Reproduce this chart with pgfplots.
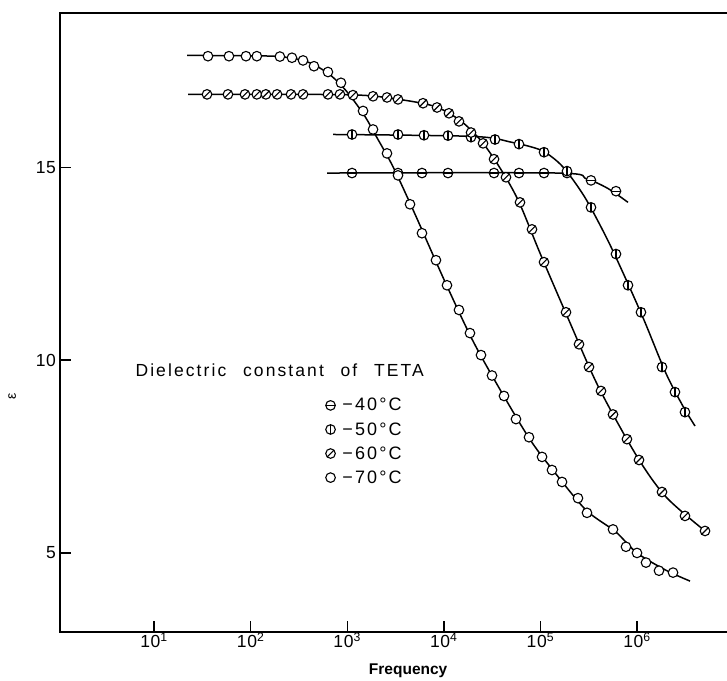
\documentclass[border=0pt]{standalone}
\usepackage{fontspec}
\setmainfont{Liberation Sans}
\newfontfamily\spaced{Liberation Sans}[LetterSpace=12, WordSpace=2.4]
\newfontfamily\tickfont{Liberation Sans}[LetterSpace=4]
\usepackage{pgfplots}
\pgfplotsset{compat=1.18}

% circle marks with a bar / slash inside
\pgfdeclareplotmark{circ}{%
  \pgfpathcircle{\pgfpointorigin}{\pgfplotmarksize}\pgfusepathqfillstroke}
\pgfdeclareplotmark{circh}{%
  \pgfpathcircle{\pgfpointorigin}{\pgfplotmarksize}\pgfusepathqfillstroke
  \pgfpathmoveto{\pgfqpoint{-\pgfplotmarksize}{0pt}}%
  \pgfpathlineto{\pgfqpoint{\pgfplotmarksize}{0pt}}\pgfusepathqstroke}
\pgfdeclareplotmark{circv}{%
  \pgfpathcircle{\pgfpointorigin}{\pgfplotmarksize}\pgfusepathqfillstroke
  \pgfpathmoveto{\pgfqpoint{0pt}{-\pgfplotmarksize}}%
  \pgfpathlineto{\pgfqpoint{0pt}{\pgfplotmarksize}}\pgfusepathqstroke}
\pgfdeclareplotmark{circs}{%
  \pgfpathcircle{\pgfpointorigin}{\pgfplotmarksize}\pgfusepathqfillstroke
  \pgfpathmoveto{\pgfqpoint{-0.707\pgfplotmarksize}{-0.707\pgfplotmarksize}}%
  \pgfpathlineto{\pgfqpoint{0.707\pgfplotmarksize}{0.707\pgfplotmarksize}}\pgfusepathqstroke}

\begin{document}
\begin{tikzpicture}
\begin{axis}[
  scale only axis, width=680pt, height=619pt,
  xmode=log, xmin=1.064, xmax=1.165e7,
  ymin=2.95, ymax=19.0,
  axis line style={line width=1.9pt},
  tick pos=left, tick align=inside,
  major tick length=11pt,
  every tick/.style={black, line width=1.4pt},
  xminorticks=false,
  xtick={10,100,1000,10000,100000,1000000},
  xticklabels={10\textsuperscript{1},10\textsuperscript{2},10\textsuperscript{3},10\textsuperscript{4},10\textsuperscript{5},10\textsuperscript{6}},
  ytick={5,10,15}, yticklabels={5,10,15},
  tick label style={font=\tickfont\fontsize{17.5}{20}\selectfont},
  yticklabel style={xshift=-0.5pt},
  xticklabel style={yshift=2.5pt},
  xlabel={Frequency},
  xlabel style={font=\bfseries\fontsize{15.5}{18}\selectfont, at={(axis description cs:0.512,-0.063)}, anchor=center},
  ylabel={ε},
  ylabel style={font=\fontsize{14}{16}\selectfont, at={(axis description cs:-0.0705,0.38)}, anchor=center},
  legend style={at={(axis description cs:0.3905,0.381)}, anchor=north west, draw=none, fill=none,
    inner sep=0pt, row sep=6pt, font=\spaced\fontsize{18}{21}\selectfont},
  legend cell align=left,
  mark size=4.8pt,
]
% curves
\addplot[black, line width=1.5pt, smooth, forget plot] coordinates {
(618,14.85)(150000,14.85)(300000,14.7)(500000,14.45)(807000,14.09)};
\addplot[black, line width=1.5pt, smooth, forget plot] coordinates {
(713,15.85)(20000,15.8)(50000,15.65)(100000,15.45)(150000,15.15)(200000,14.8)(300000,14.15)(500000,13.1)(800000,12.0)(1200000,11.0)(2000000,9.65)(3000000,8.8)(3990000,8.29)};
\addplot[black, line width=1.5pt, smooth, forget plot] coordinates {
(22.5,16.89)(1000,16.88)(3000,16.78)(8000,16.58)(15000,16.2)(25000,15.65)(40000,14.9)(60000,14.1)(100000,12.75)(200000,11.0)(400000,9.3)(1000000,7.5)(2000000,6.45)(5060000,5.57)};
\addplot[black, line width=1.5pt, smooth, forget plot] coordinates {
(22,17.9)(100,17.89)(200,17.87)(350,17.77)(500,17.6)(700,17.35)(1000,16.95)(1500,16.35)(2000,15.8)(3000,15.0)(5000,13.8)(10000,12.1)(20000,10.5)(40000,9.15)(80000,7.9)(150000,7.0)(300000,6.1)(600000,5.55)(1000000,5.0)(2000000,4.55)(3540000,4.27)};
% measured points
\addplot[only marks, mark=circh, mark options={fill=white, draw=black, line width=1.1pt}] coordinates {
(1122,14.85)(3357,14.85)(5945,14.85)(11050,14.85)(33110,14.85)(60010,14.85)(109000,14.85)(188500,14.85)(334100,14.66)(606100,14.38)};
\addlegendentry{\hspace{5pt}−40°C}
\addplot[only marks, mark=circv, mark options={fill=white, draw=black, line width=1.1pt}] coordinates {
(1122,15.85)(3357,15.85)(6237,15.83)(11050,15.82)(19140,15.78)(33900,15.72)(60010,15.6)(109000,15.39)(188500,14.9)(334100,13.96)(606100,12.75)(807000,11.94)(1099000,11.24)(1815000,9.82)(2472000,9.17)(3138000,8.65)};
\addlegendentry{\hspace{5pt}−50°C}
\addplot[only marks, mark=circs, mark options={fill=white, draw=black, line width=1.1pt}] coordinates {
(35.4,16.89)(58.3,16.89)(87.5,16.89)(116,16.89)(144,16.89)(188,16.89)(262,16.89)(349,16.89)(632,16.89)(841,16.89)(1148,16.87)(1851,16.84)(2582,16.81)(3357,16.76)(6092,16.66)(8506,16.55)(11310,16.4)(14360,16.19)(19140,15.9)(25470,15.62)(33110,15.21)(44040,14.74)(61480,14.09)(81840,13.39)(109000,12.54)(184200,11.24)(251000,10.41)(318400,9.82)(423900,9.2)(564500,8.59)(787000,7.95)(1049000,7.41)(1815000,6.58)(3138000,5.96)(5060000,5.57)};
\addlegendentry{\hspace{5pt}−60°C}
\addplot[only marks, mark=circ, mark options={fill=white, draw=black, line width=1.1pt}] coordinates {
(36.2,17.88)(59.7,17.88)(89.6,17.88)(116,17.88)(201,17.87)(268,17.84)(349,17.77)(453,17.62)(632,17.47)(862,17.19)(1459,16.46)(1851,15.98)(2582,15.36)(3357,14.79)(4470,14.04)(5945,13.29)(8297,12.59)(10790,11.94)(14360,11.3)(18660,10.7)(24270,10.13)(31550,9.6)(42010,9.07)(55860,8.47)(76200,8.0)(104000,7.49)(131800,7.15)(167500,6.84)(244900,6.42)(303600,6.04)(564500,5.61)(769000,5.16)(1000000,5.0)(1239000,4.75)(1689000,4.54)(2360000,4.49)};
\addlegendentry{\hspace{5pt}−70°C}
\node[anchor=west, font=\spaced\fontsize{17.5}{20}\selectfont] at (axis description cs:0.1059,0.4233) {Dielectric constant of TETA};
\end{axis}
\pgfresetboundingbox
\useasboundingbox (-60pt,-48pt) rectangle (667pt,632pt);
\end{tikzpicture}
\end{document}
